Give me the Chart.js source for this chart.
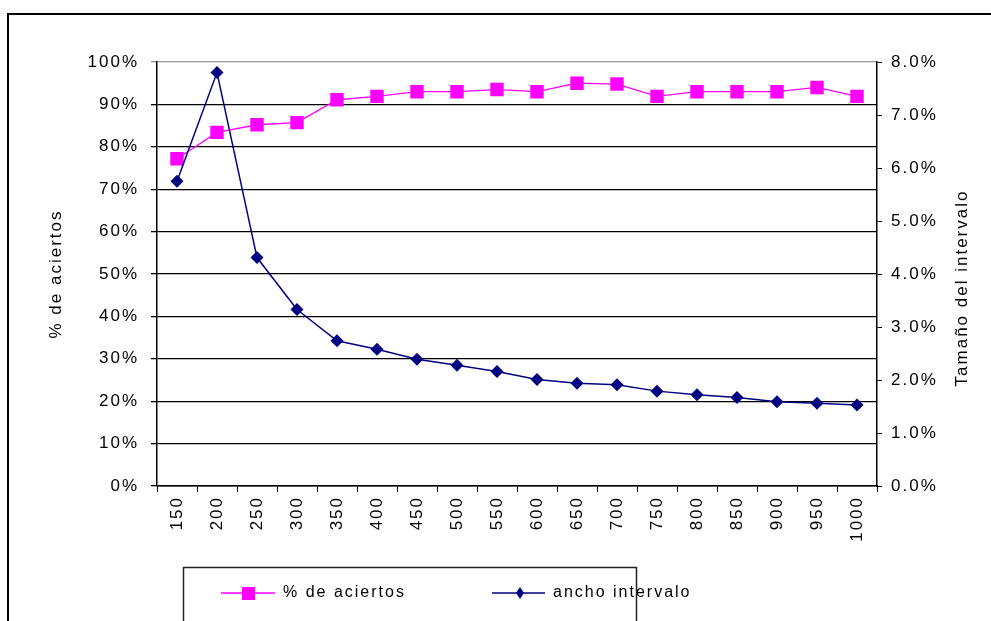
<html>
  <head>
    <meta charset="utf-8">
    <script src="https://cdn.jsdelivr.net/npm/chart.js@4"></script>
    <title>aciertos_intervalo</title>
    <style>body{margin:0;background:#fff;}</style>
  </head>
  <body>
    <canvas id="myChart" width="991" height="621" style="display:block;"></canvas>
    <script>
// tamaños de muestra
const labels = ['150','200','250','300','350','400','450','500','550','600','650','700','750','800','850','900','950','1000'];
// % de aciertos (eje izquierdo)
const aciertos = [77.2, 83.4, 85.2, 85.7, 91.1, 91.9, 93.0, 93.0, 93.5, 93.0, 95.0, 94.8, 91.9, 93.0, 93.0, 93.0, 94.0, 91.9];
// ancho intervalo (eje derecho, en %)
const ancho = [5.75, 7.80, 4.31, 3.33, 2.74, 2.58, 2.39, 2.28, 2.16, 2.01, 1.94, 1.91, 1.79, 1.72, 1.67, 1.59, 1.56, 1.53];

const leftTitle = '% de aciertos';
const rightTitle = 'Tamaño del intervalo';
const legendNames = ['% de aciertos', 'ancho intervalo'];

const FONT = '"Liberation Sans", Arial, sans-serif';
const SPACING = '2px';

// espaciado de letras como el original
const spacingPlugin = {
  id: 'spacing',
  beforeUpdate(chart) { chart.ctx.letterSpacing = SPACING; },
  beforeDraw(chart) { chart.ctx.letterSpacing = SPACING; }
};

// marco, titulo derecho y leyenda
const extras = {
  id: 'extras',
  afterDraw(chart) {
    const c = chart.ctx;
    c.save();
    c.letterSpacing = SPACING;
    // marco exterior
    c.strokeStyle = '#000';
    c.lineWidth = 2;
    c.beginPath();
    c.moveTo(8, 621);
    c.lineTo(8, 14);
    c.lineTo(991, 14);
    c.stroke();

    // titulo eje derecho (de abajo hacia arriba)
    c.fillStyle = '#000';
    c.font = '17px ' + FONT;
    c.textAlign = 'center';
    c.textBaseline = 'middle';
    c.translate(962, 288);
    c.rotate(-Math.PI / 2);
    c.fillText(rightTitle, 0, 0);
    c.setTransform(1, 0, 0, 1, 0, 0);

    // leyenda
    c.lineWidth = 1.5;
    c.strokeStyle = '#222';
    c.strokeRect(183.5, 567.5, 453, 80);
    const y = 593;
    c.lineWidth = 1.5;
    c.strokeStyle = '#FF00FF';
    c.beginPath(); c.moveTo(221, y); c.lineTo(275, y); c.stroke();
    c.fillStyle = '#FF00FF';
    c.fillRect(242, y - 6, 13, 13);
    c.strokeStyle = '#000080';
    c.beginPath(); c.moveTo(492, y); c.lineTo(545, y); c.stroke();
    c.fillStyle = '#000080';
    c.beginPath();
    c.moveTo(520, y - 6); c.lineTo(524, y); c.lineTo(520, y + 6); c.lineTo(516, y);
    c.closePath(); c.fill();
    c.fillStyle = '#000';
    c.font = '16px ' + FONT;
    c.textAlign = 'left';
    c.fillText(legendNames[0], 283, y);
    c.fillText(legendNames[1], 553, y);
    c.restore();
  }
};

var ctx = document.getElementById('myChart');
var myChart = new Chart(ctx, {
  type: 'line',
  data: {
    labels: labels,
    datasets: [{
      label: legendNames[0],
      data: aciertos,
      yAxisID: 'y',
      borderColor: '#FF00FF',
      backgroundColor: '#FF00FF',
      borderWidth: 1.3,
      pointStyle: 'rect',
      pointRadius: 9.5,
      pointBorderWidth: 0,
      order: 1
    }, {
      label: legendNames[1],
      data: ancho,
      yAxisID: 'y1',
      borderColor: '#000080',
      backgroundColor: '#000080',
      borderWidth: 1.5,
      pointStyle: 'rectRot',
      pointRadius: 6.5,
      pointBorderWidth: 0,
      order: 0
    }]
  },
  options: {
    responsive: false,
    animation: false,
    layout: {
      autoPadding: false,
      padding: { top: 62, left: 40, right: 0, bottom: 0 }
    },
    plugins: {
      legend: { display: false },
      tooltip: { enabled: false }
    },
    scales: {
      x: {
        offset: true,
        afterFit(s) { s.height = 135; },
        grid: { offset: true, drawOnChartArea: false, color: '#000', tickLength: 6 },
        border: { color: '#000', width: 1.5 },
        ticks: {
          color: '#000', minRotation: 90, maxRotation: 90, padding: 4,
          autoSkip: false, font: { family: FONT, size: 17 }
        }
      },
      y: {
        position: 'left',
        min: 0, max: 100,
        afterFit(s) { s.width = 117; },
        grid: {
          color: (c) => c.tick && c.tick.value === 100 ? '#999' : '#000',
          lineWidth: 1.3,
          tickLength: 6
        },
        border: { color: '#000', width: 1.5 },
        ticks: {
          stepSize: 10, color: '#000', padding: 12,
          font: { family: FONT, size: 17 },
          callback: (v) => v + '%'
        },
        title: {
          display: true, text: leftTitle, color: '#000',
          font: { family: FONT, size: 17 },
          padding: { top: 6, bottom: 0 }
        }
      },
      y1: {
        position: 'right',
        min: 0, max: 8,
        afterFit(s) { s.width = 114; },
        grid: { drawOnChartArea: false, color: '#000', tickLength: 5 },
        border: { color: '#000', width: 1.5 },
        ticks: {
          stepSize: 1, color: '#000', padding: 9,
          font: { family: FONT, size: 17 },
          callback: (v) => v.toFixed(1) + '%'
        }
      }
    }
  },
  plugins: [spacingPlugin, extras]
});
    </script>
  </body>
</html>
